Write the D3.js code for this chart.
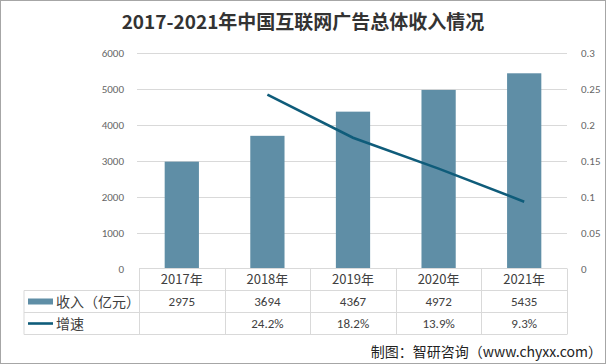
<!DOCTYPE html>
<html><head><meta charset="utf-8">
<script src="https://cdn.jsdelivr.net/npm/d3@7"></script>
<style>
body{margin:0;background:#fff;}
svg{display:block;font-family:"Microsoft YaHei","Noto Sans CJK SC",sans-serif;}
</style></head>
<body><svg id="c" width="606" height="364"></svg>
<script>
const categories = ["2017年","2018年","2019年","2020年","2021年"];
const revenue = [2975, 3694, 4367, 4972, 5435];
const growth = [null, 0.242, 0.182, 0.139, 0.093];
const growthLabels = ["", "24.2%", "18.2%", "13.9%", "9.3%"];
const leftTicks = [0,1000,2000,3000,4000,5000,6000];
const rightTicks = [0,0.05,0.1,0.15,0.2,0.25,0.3];
const seriesNames = ["收入（亿元）", "增速"];

const svg = d3.select("#c");
const W = 606, H = 364;
const L = 139, R = 567, T = 53, B = 268.5;
const barColor = "#5f8ea6", lineColor = "#0f5c7a";

svg.append("rect").attr("x",0.5).attr("y",0.5).attr("width",W-1).attr("height",H-1)
  .attr("fill","#fff").attr("stroke","#a6a6a6");

svg.append("text").attr("x",303).attr("y",29).attr("text-anchor","middle")
  .attr("font-size",19).attr("font-weight","bold").attr("fill","#333")
  .text("2017-2021年中国互联网广告总体收入情况");

const x = d3.scaleBand().domain(categories).range([L,R]).paddingInner(0.6).paddingOuter(0.3);
const xc = d3.scaleBand().domain(categories).range([L,R]);
const y = d3.scaleLinear().domain([0,6000]).range([B,T]);
const y2 = d3.scaleLinear().domain([0,0.3]).range([B,T]);

// gridlines
svg.append("g").selectAll("line").data(leftTicks.slice(1)).join("line")
  .attr("x1",L-2).attr("x2",R).attr("y1",d=>Math.round(y(d))+0.5).attr("y2",d=>Math.round(y(d))+0.5)
  .attr("stroke","#d9d9d9");

const tickFont = "Calibri,Carlito,'Liberation Sans',sans-serif";
// left axis
const la = svg.append("g").attr("transform",`translate(${L-12},0)`)
  .call(d3.axisLeft(y).tickValues(leftTicks).tickSize(0).tickFormat(d3.format("d")));
la.select(".domain").remove();
la.selectAll("text").attr("font-size",11).attr("fill","#666").attr("font-family",tickFont);

// right axis
const ra = svg.append("g").attr("transform",`translate(${R+11},0)`)
  .call(d3.axisRight(y2).tickValues(rightTicks).tickSize(0).tickFormat(d=>d===0?"0":String(+d.toFixed(2))));
ra.select(".domain").remove();
ra.selectAll("text").attr("font-size",11).attr("fill","#666").attr("font-family",tickFont);

// bars
svg.append("g").selectAll("rect").data(revenue).join("rect")
  .attr("x",(d,i)=>x(categories[i])).attr("width",x.bandwidth())
  .attr("y",d=>y(d)).attr("height",d=>B-y(d)).attr("fill",barColor);

// line
const pts = growth.map((g,i)=>({g, c:categories[i]})).filter(d=>d.g!==null);
svg.append("path").datum(pts)
  .attr("d",d3.line().x(d=>xc(d.c)+xc.bandwidth()/2).y(d=>y2(d.g)))
  .attr("fill","none").attr("stroke",lineColor).attr("stroke-width",2.6);

// data table
const r0 = B, r1 = 290.5, r2 = 312.5, r3 = 334.5, TL = 24;
const tg = svg.append("g").attr("stroke","#d9d9d9").attr("fill","none");
tg.append("line").attr("x1",L).attr("x2",R).attr("y1",r0).attr("y2",r0);
[r1,r2,r3].forEach(yy=>tg.append("line").attr("x1",TL).attr("x2",R).attr("y1",yy).attr("y2",yy));
tg.append("line").attr("x1",TL).attr("x2",TL).attr("y1",r1).attr("y2",r3);
categories.forEach((c,i)=>{
  const xx = Math.round(xc(c))+0.5;
  tg.append("line").attr("x1",xx).attr("x2",xx).attr("y1",r0).attr("y2",r3);
});
tg.append("line").attr("x1",R+0.5).attr("x2",R+0.5).attr("y1",r0).attr("y2",r3);

const cellFont = "Calibri,Carlito,'Microsoft YaHei','Noto Sans CJK SC',sans-serif";
const cx = c=>xc(c)+xc.bandwidth()/2;
svg.append("g").selectAll("text").data(categories).join("text")
  .attr("x",d=>cx(d)).attr("y",(r0+r1)/2+4.5).attr("text-anchor","middle")
  .attr("font-size",13).attr("fill","#404040").text(d=>d);
svg.append("g").selectAll("text").data(revenue).join("text")
  .attr("x",(d,i)=>cx(categories[i])).attr("y",(r1+r2)/2+4.5).attr("text-anchor","middle")
  .attr("font-size",13).attr("fill","#404040").attr("font-family",cellFont).text(d=>d);
svg.append("g").selectAll("text").data(growthLabels).join("text")
  .attr("x",(d,i)=>cx(categories[i])).attr("y",(r2+r3)/2+4.5).attr("text-anchor","middle")
  .attr("font-size",13).attr("fill","#404040").attr("font-family",cellFont).text(d=>d);

// legend in table
svg.append("rect").attr("x",28).attr("y",(r1+r2)/2-3).attr("width",25).attr("height",6).attr("fill",barColor);
svg.append("text").attr("x",56).attr("y",(r1+r2)/2+5).attr("font-size",14).attr("fill","#404040").text(seriesNames[0]);
svg.append("line").attr("x1",28).attr("x2",53).attr("y1",(r2+r3)/2).attr("y2",(r2+r3)/2)
  .attr("stroke",lineColor).attr("stroke-width",2.6);
svg.append("text").attr("x",56).attr("y",(r2+r3)/2+5).attr("font-size",14).attr("fill","#404040").text(seriesNames[1]);

// source
svg.append("text").attr("x",602).attr("y",357).attr("text-anchor","end")
  .attr("font-size",14).attr("fill","#222").text("制图：智研咨询（www.chyxx.com）");
</script></body></html>
